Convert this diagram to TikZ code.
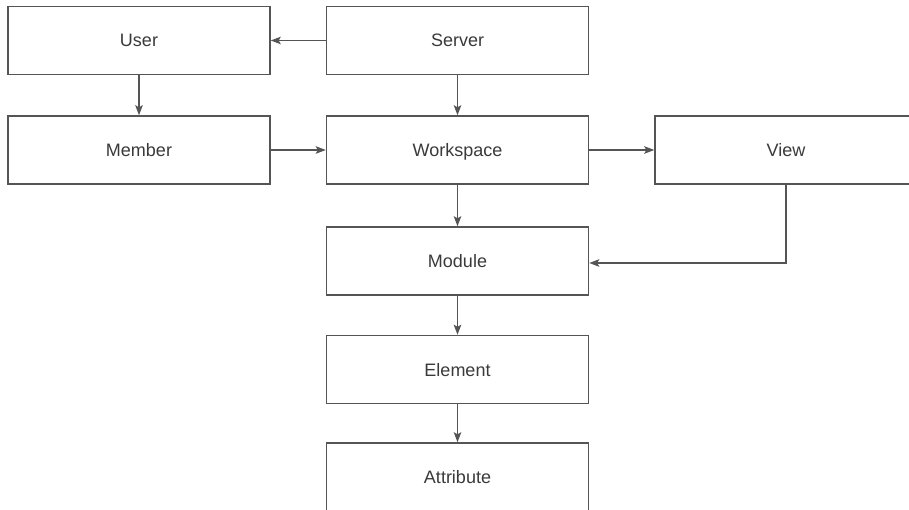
\documentclass[tikz,border=0pt]{standalone}
\usepackage{fontspec}
\setmainfont{Liberation Sans}
\usetikzlibrary{arrows.meta}
\definecolor{linegray}{HTML}{555555}
\definecolor{textgray}{HTML}{3A3A3A}
\tikzset{
  box/.style={draw=linegray, line width=1.5pt, fill=white, minimum width=262pt,
    minimum height=68pt, inner sep=0pt, text=textgray, text height=13pt,
    text depth=0pt, font=\fontsize{18}{20}\selectfont},
  link/.style={draw=linegray, line width=1.4pt,
    -{Stealth[length=10pt,width=7.5pt,inset=2pt]}}
}
\begin{document}
\begin{tikzpicture}[x=1pt,y=-1pt]
\useasboundingbox (0,0) rectangle (909,510);
\clip (0,0) rectangle (909,510);
\node[box] (user)      at (139,40.5)   {User};
\node[box] (server)    at (457.5,40.5) {Server};
\node[box] (member)    at (139,150)    {Member};
\node[box] (workspace) at (457.5,150)  {Workspace};
\node[box] (view)      at (786,150)    {View};
\node[box] (module)    at (457.5,261)  {Module};
\node[box] (element)   at (457.5,369.5){Element};
\node[box] (attribute) at (457.5,477)  {Attribute};
\draw[link] (server) -- (user);
\draw[link] (user) -- (member);
\draw[link] (server) -- (workspace);
\draw[link] (member) -- (workspace);
\draw[link] (workspace) -- (view);
\draw[link] (workspace) -- (module);
\draw[link] (view.south) |- ([yshift=-2pt]module.east);
\draw[link] (module) -- (element);
\draw[link] (element) -- (attribute);
\end{tikzpicture}
\end{document}
